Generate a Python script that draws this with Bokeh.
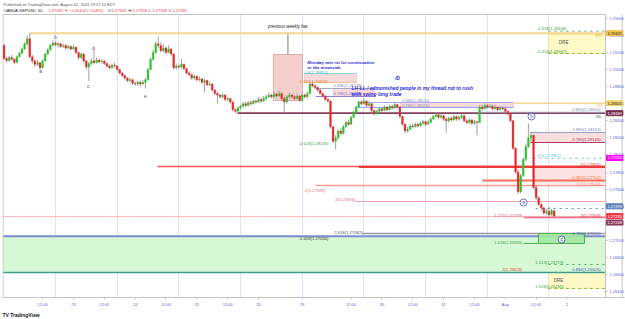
import numpy as np
from bokeh.plotting import figure
from bokeh.models import Range1d, FixedTicker, Label, ColumnDataSource, PrintfTickFormatter, Title
from bokeh.core.properties import value
from bokeh.embed import file_html
from bokeh.resources import INLINE

FONT = "Liberation Sans"

# ---------------- data (GBPUSD 60 min, hours counted in trading time from 22 Jul 00:00) ----
first_hour = -3
first_open = 1.29280
closes = [
    1.29129, 1.29105, 1.29140, 1.29120, 1.29082, 1.29150, 1.29190, 1.29240, 1.29300, 1.29360,
    1.29150, 1.29100, 1.29060, 1.29080, 1.29020, 1.29100, 1.29180, 1.29230, 1.29280, 1.29310,
    1.29290, 1.29300, 1.29270, 1.29280, 1.29250, 1.29270, 1.29240, 1.29260, 1.29200, 1.29140,
    1.29180, 1.29100, 1.29030, 1.29070, 1.29100, 1.29080, 1.29110, 1.29090, 1.29100, 1.29070,
    1.29040, 1.29020, 1.29050, 1.29040, 1.29000, 1.28960, 1.28930, 1.28900, 1.28870, 1.28880,
    1.28840, 1.28830, 1.28850, 1.28830, 1.28850, 1.28880, 1.29000, 1.29120, 1.29200, 1.29300,
    1.29280, 1.29220, 1.29250, 1.29200, 1.29240, 1.29180, 1.29020, 1.29040, 1.29030, 1.29060,
    1.29010, 1.28960, 1.28940, 1.28900, 1.28920, 1.28880, 1.28890, 1.28850, 1.28870, 1.28820,
    1.28830, 1.28760, 1.28720, 1.28700, 1.28680, 1.28700, 1.28650, 1.28660, 1.28620, 1.28530,
    1.28510, 1.28550, 1.28570, 1.28600, 1.28580, 1.28610, 1.28600, 1.28630, 1.28620, 1.28650,
    1.28630, 1.28660, 1.28680, 1.28700, 1.28680, 1.28710, 1.28690, 1.28720, 1.28660, 1.28620,
    1.28680, 1.28700, 1.28680, 1.28660, 1.28690, 1.28640, 1.28700, 1.28680, 1.28720, 1.28830,
    1.28810, 1.28790, 1.28760, 1.28720, 1.28690, 1.28650, 1.28630, 1.28330, 1.28160, 1.28200,
    1.28280, 1.28250, 1.28330, 1.28380, 1.28360, 1.28440, 1.28500, 1.28560, 1.28620, 1.28600,
    1.28630, 1.28580, 1.28600, 1.28520, 1.28480, 1.28510, 1.28540, 1.28520, 1.28560, 1.28530,
    1.28570, 1.28550, 1.28590, 1.28560, 1.28450, 1.28360, 1.28280, 1.28300, 1.28340, 1.28330,
    1.28360, 1.28340, 1.28370, 1.28390, 1.28360, 1.28380, 1.28420, 1.28450, 1.28470, 1.28440,
    1.28460, 1.28420, 1.28400, 1.28430, 1.28410, 1.28450, 1.28420, 1.28440, 1.28460, 1.28400,
    1.28380, 1.28410, 1.28370, 1.28390, 1.28380, 1.28560, 1.28540, 1.28580, 1.28560, 1.28570,
    1.28540, 1.28560, 1.28530, 1.28550, 1.28540, 1.28510, 1.28480, 1.28400, 1.28080, 1.27800,
    1.27570, 1.27760, 1.27950, 1.28100, 1.28200, 1.28230, 1.27620, 1.27500, 1.27420, 1.27380,
    1.27320, 1.27340, 1.27300, 1.27349, 1.27285,
]
highs = [
    1.29300, 1.29150, 1.29160, 1.29170, 1.29130, 1.29165, 1.29210, 1.29260, 1.29320, 1.29400,
    1.29425, 1.29170, 1.29120, 1.29110, 1.29090, 1.29120, 1.29190, 1.29250, 1.29300, 1.29340,
    1.29330, 1.29320, 1.29310, 1.29300, 1.29300, 1.29290, 1.29280, 1.29290, 1.29270, 1.29210,
    1.29200, 1.29190, 1.29110, 1.29090, 1.29130, 1.29230, 1.29140, 1.29130, 1.29120, 1.29110,
    1.29090, 1.29060, 1.29070, 1.29080, 1.29050, 1.29010, 1.28970, 1.28950, 1.28910, 1.28900,
    1.28890, 1.28860, 1.28870, 1.28870, 1.28880, 1.28900, 1.29020, 1.29140, 1.29230, 1.29330,
    1.29386, 1.29320, 1.29300, 1.29270, 1.29280, 1.29250, 1.29190, 1.29070, 1.29060, 1.29130,
    1.29070, 1.29020, 1.28980, 1.28950, 1.28940, 1.28930, 1.28920, 1.28900, 1.28890, 1.28880,
    1.28860, 1.28840, 1.28770, 1.28740, 1.28720, 1.28720, 1.28710, 1.28680, 1.28670, 1.28630,
    1.28550, 1.28570, 1.28590, 1.28620, 1.28620, 1.28630, 1.28640, 1.28650, 1.28650, 1.28680,
    1.28670, 1.28690, 1.28710, 1.28730, 1.28720, 1.28740, 1.28730, 1.28750, 1.28730, 1.28680,
    1.28700, 1.28730, 1.28720, 1.28700, 1.28710, 1.28700, 1.28720, 1.28720, 1.28740, 1.28850,
    1.28860, 1.28830, 1.28800, 1.28770, 1.28730, 1.28700, 1.28670, 1.28640, 1.28340, 1.28230,
    1.28300, 1.28310, 1.28350, 1.28400, 1.28410, 1.28460, 1.28520, 1.28580, 1.28640, 1.28650,
    1.28660, 1.28640, 1.28630, 1.28610, 1.28530, 1.28530, 1.28560, 1.28560, 1.28580, 1.28570,
    1.28590, 1.28590, 1.28620, 1.28600, 1.28570, 1.28460, 1.28370, 1.28330, 1.28360, 1.28370,
    1.28380, 1.28380, 1.28390, 1.28410, 1.28400, 1.28410, 1.28440, 1.28470, 1.28500, 1.28490,
    1.28480, 1.28470, 1.28440, 1.28450, 1.28450, 1.28470, 1.28460, 1.28460, 1.28480, 1.28470,
    1.28420, 1.28430, 1.28420, 1.28410, 1.28400, 1.28580, 1.28590, 1.28605, 1.28600, 1.28600,
    1.28590, 1.28590, 1.28570, 1.28570, 1.28570, 1.28560, 1.28520, 1.28490, 1.28410, 1.28090,
    1.27830, 1.27780, 1.27970, 1.28130, 1.28368, 1.28269, 1.28240, 1.27650, 1.27520, 1.27440,
    1.27400, 1.27370, 1.27399, 1.27370, 1.27358,
]
lows = [
    1.29110, 1.29080, 1.29090, 1.29100, 1.29060, 1.29070, 1.29140, 1.29180, 1.29230, 1.29280,
    1.29130, 1.29070, 1.29030, 1.29040, 1.28990, 1.29010, 1.29090, 1.29170, 1.29220, 1.29270,
    1.29270, 1.29260, 1.29250, 1.29250, 1.29230, 1.29240, 1.29220, 1.29230, 1.29180, 1.29110,
    1.29120, 1.29080, 1.29000, 1.28860, 1.29050, 1.29060, 1.29070, 1.29070, 1.29070, 1.29050,
    1.29020, 1.29000, 1.29010, 1.29020, 1.28980, 1.28940, 1.28910, 1.28880, 1.28850, 1.28850,
    1.28820, 1.28810, 1.28810, 1.28800, 1.28820, 1.28778, 1.28870, 1.28990, 1.29100, 1.29180,
    1.29250, 1.29200, 1.29200, 1.29180, 1.29190, 1.29160, 1.29000, 1.29000, 1.29010, 1.29010,
    1.28990, 1.28940, 1.28920, 1.28880, 1.28880, 1.28860, 1.28860, 1.28830, 1.28731, 1.28800,
    1.28800, 1.28740, 1.28700, 1.28600, 1.28660, 1.28660, 1.28630, 1.28630, 1.28600, 1.28510,
    1.28489, 1.28500, 1.28530, 1.28560, 1.28560, 1.28570, 1.28580, 1.28590, 1.28600, 1.28610,
    1.28610, 1.28620, 1.28640, 1.28670, 1.28660, 1.28670, 1.28670, 1.28680, 1.28640, 1.28495,
    1.28600, 1.28660, 1.28660, 1.28640, 1.28650, 1.28620, 1.28620, 1.28660, 1.28660, 1.28710,
    1.28790, 1.28770, 1.28740, 1.28700, 1.28670, 1.28630, 1.28610, 1.28310, 1.28140, 1.28064,
    1.28180, 1.28230, 1.28240, 1.28320, 1.28340, 1.28350, 1.28430, 1.28490, 1.28550, 1.28580,
    1.28590, 1.28560, 1.28570, 1.28500, 1.28460, 1.28470, 1.28500, 1.28500, 1.28510, 1.28510,
    1.28520, 1.28530, 1.28540, 1.28540, 1.28430, 1.28340, 1.28251, 1.28260, 1.28290, 1.28310,
    1.28320, 1.28320, 1.28330, 1.28350, 1.28340, 1.28350, 1.28370, 1.28410, 1.28440, 1.28420,
    1.28430, 1.28400, 1.28260, 1.28380, 1.28390, 1.28400, 1.28400, 1.28400, 1.28420, 1.28380,
    1.28360, 1.28360, 1.28350, 1.28350, 1.28228, 1.28370, 1.28520, 1.28530, 1.28540, 1.28550,
    1.28520, 1.28530, 1.28510, 1.28520, 1.28520, 1.28490, 1.28460, 1.28380, 1.28060, 1.27780,
    1.27540, 1.27550, 1.27740, 1.27930, 1.28080, 1.28150, 1.27600, 1.27470, 1.27400, 1.27350,
    1.27300, 1.27300, 1.27280, 1.27290, 1.27268,
]

x_tick_hours = [12, 24, 36, 48, 60, 72, 84, 96, 113, 132, 144, 156, 168, 180, 192, 204, 216]
x_tick_labels = ["12:00", "23", "12:00", "24", "12:00", "25", "12:00", "26", "29",
                 "12:00", "30", "12:00", "31", "12:00", "Aug", "12:00", "2"]
session_hours = [17, 41, 65, 89, 113, 137, 161, 185, 209]
price_ticks = [1.264, 1.266, 1.268, 1.270, 1.272, 1.274, 1.276, 1.278, 1.280,
               1.282, 1.284, 1.286, 1.288, 1.290, 1.292, 1.294, 1.296]

week_high = 1.29425
week_low = 1.28489
prev_week_open = 1.29175
prev_week_close = 1.28637
yday_high = 1.28605
week_bar_hours = [101.8, 113.1]

swing_names = ["a", "b", "c", "d", "e"]
swing_hours = [11.2, 17.0, 29.8, 31.8, 52.0]
swing_prices = [1.28977, 1.29374, 1.28801, 1.29246, 1.28684]

wave_names = ["a", "b", "c"]
wave_hours = [199.1, 202.2, 213.9]
wave_prices = [1.27444, 1.28450, 1.27012]

axis_tag_prices = [1.29425, 1.28605, 1.28489, 1.27965, 1.27399, 1.27285, 1.27268]
axis_tag_colors = ["#f2c14e", "#f5d36b", "#7b2d4f", "#ff00ff", "#5b7fb8", "#f23645", "#8e3b5e"]
axis_tag_text_colors = ["#222222", "#222222", "white", "white", "white", "white", "white"]

quote_texts = ["OANDA:GBPUSD, 60", "1.27285 \u25bc \u22120.00104 (\u22120.08%)",
               "O:", "1.27349", "H:", "1.27358", "L:", "1.27268", "C:", "1.27285"]

# ---------------- figure ----------------
X0, X1 = -3.6, 231.0          # chart pane (time, hours)
XE = 238.38                    # includes the price-scale strip
Y0, Y1 = 1.26333, 1.29643      # chart pane (price)
YE = Y1 + 14 / 8550            # includes the header strip
PX = 2.5704                    # px per hour
PY = 8550.0                    # px per price unit

p = figure(width=625, height=319, x_range=Range1d(X0, XE), y_range=Range1d(Y0, YE),
           output_backend="svg", toolbar_location=None, y_axis_location="right",
           min_border_left=2, min_border_right=1, min_border_top=0, min_border_bottom=22)
p.background_fill_color = "white"
p.border_fill_color = "white"
p.outline_line_color = None

p.add_layout(Title(text="TV  TradingView", align="left", text_font=FONT,
                   text_font_size="5px", text_font_style="bold", text_color="#131722",
                   standoff=1), "below")

p.xaxis.ticker = FixedTicker(ticks=x_tick_hours)
p.xaxis.major_label_overrides = {h: s for h, s in zip(x_tick_hours, x_tick_labels)}
p.yaxis.ticker = FixedTicker(ticks=price_ticks)
p.yaxis.formatter = PrintfTickFormatter(format="%.5f")
p.yaxis.fixed_location = X1
for ax in (p.xaxis[0], p.yaxis[0]):
    ax.major_label_text_font = FONT
    ax.major_label_text_font_size = "4px"
    ax.major_label_text_color = "#5a5fcf"
    ax.axis_line_color = "#c4c4c4"
    ax.major_tick_line_color = "#c4c4c4"
    ax.major_tick_out = 2
    ax.major_tick_in = 0
    ax.minor_tick_line_color = None
    ax.major_label_standoff = 2
p.yaxis.axis_line_color = None
p.xgrid.ticker = FixedTicker(ticks=session_hours)
p.xgrid.grid_line_color = "#dbe5f0"
p.ygrid.grid_line_color = None


def hline(x0, x1, y, color, w=1.0, dash="solid", alpha=1.0):
    p.segment(x0=[x0], y0=[y], x1=[x1], y1=[y], line_color=color, line_width=w,
              line_dash=dash, line_alpha=alpha)


def box(x0, x1, y0, y1, fill, line=None, alpha=1.0, lw=1.0):
    p.quad(left=[x0], right=[x1], bottom=[y0], top=[y1], fill_color=fill, fill_alpha=alpha,
           line_color=line, line_width=lw)


def txt(x, y, s, color, size="4.2px", align="left", style="normal", dy=0):
    p.text(x=[x], y=[y], text=[s], text_color=color, text_font=value(FONT),
           text_font_size=size, text_align=align, text_baseline="middle",
           text_font_style=style, y_offset=dy)


def lvl(r, price):
    return f"{r}({price:.5f})"

# header strip and price-scale strip stay white
box(X0, XE, Y1, YE, "white")
box(X1, XE, Y0, YE, "white")

# ----- background zones -----
band_top, band_bot = 1.27050, 1.26626
dre_hi = (1.29187, 1.29413)
dre_lo = (1.26439, 1.26696)
box(208.8, X1, dre_lo[0], dre_lo[1], "#fff9c8", line="#f3e27a", lw=0.8)
box(X0, X1, band_bot, band_top, "#d6f8d4")
box(208.8, X1, dre_hi[0], dre_hi[1], "#fff9c8", line="#f3e27a", lw=0.8)

# weekly bar
p.segment(x0=[sum(week_bar_hours) / 2], y0=[prev_week_open], x1=[sum(week_bar_hours) / 2],
          y1=[week_high], line_color="#7a7a7a", line_width=1)
box(week_bar_hours[0], week_bar_hours[1], prev_week_close, prev_week_open, "#f4cfcc",
    line="#d9a19c", lw=0.8)

# fib boxes (pink)
fib1 = (1.28848, 1.28953)
box(113.9, 134.1, fib1[0], fib1[1], "#f9dada", line="#f2b9b9", lw=0.6)
fib2 = (1.28684, 1.28778)
box(125.2, 141.1, fib2[0], fib2[1], "#f9dada", line="#f2b9b9", lw=0.6)
fib3 = (1.28556, 1.28614)
box(151.2, 195.2, fib3[0], fib3[1], "#f9dada", line="#f2b9b9", lw=0.6)
fibb = (1.28146, 1.28263)
box(201.8, X1, fibb[0], fibb[1], "#f9dede")
fibr = (1.27667, 1.27877)
box(202.6, X1, fibr[0], fibr[1], "#fbe3e3")

# ----- horizontal levels -----
hline(6.9, X1, week_high, "#f6d58e", 2)
hline(208.8, X1, 1.29448, "#4caf50", 1, "dotted")
hline(208.8, X1, dre_hi[0], "#4caf50", 1, "dotted")
hline(113.9, 134.1, fib1[1], "#7fd6e0", 0.8)
hline(113.9, 134.1, fib1[0], "#f5b98a", 0.8)
hline(118.2, 141.1, fib2[1], "#9aa6c9", 1)
hline(118.2, 141.1, fib2[0], "#8c7fd0", 1)
hline(134.5, 195.2, fib3[1], "#9fa8ff", 1)
hline(134.5, 195.2, fib3[0], "#8c9eff", 1)
hline(195.2, X1, yday_high, "#f6d58e", 1.5)
hline(87.8, X1, week_low, "#84405f", 1.6)
hline(182.4, X1, 1.28500, "#9aa6c9", 0.8)
hline(201.8, X1, fibb[1], "#8fa3c9", 1)
hline(201.8, X1, fibb[0], "#b03a62", 1.2)
hline(203.0, X1, 1.27961, "#4fc3d6", 1, "dotted")
hline(56.7, X1, 1.27865, "#ff5252", 1.6)
hline(135.0, X1, 1.27860, "#ee3b3b", 2.2)
hline(183.1, X1, 1.27702, "#ff6e5a", 2)
hline(118.2, X1, 1.27643, "#ff9a90", 1.5)
hline(133.7, X1, 1.27456, "#f6a0bb", 1)
hline(203.8, X1, 1.27374, "#5b8dc8", 1, "dotted")
hline(X0, X1, 1.27281, "#ffb5b5", 1)
hline(199.1, X1, 1.27269, "#f06c8c", 1.5)
hline(136.5, X1, 1.27082, "#9a9a9a", 1.5)
hline(X0, X1, band_top, "#7f8bd0", 2)
hline(X0, X1, band_bot, "#3f9a8a", 1.5)
hline(199.1, 204.9, 1.26965, "#4caf50", 1)
hline(208.8, X1, 1.26719, "#4caf50", 1, "dotted")
hline(208.8, X1, dre_lo[0], "#4caf50", 1, "dotted")
box(204.9, 222.8, 1.26965, 1.27082, "#a3e6a0", line="#4caf50", alpha=0.9)

# pane border (top, left, right) and outer right edge
p.segment(x0=[X0, X0 + 0.2, X1, XE - 0.9], y0=[Y1, Y0, Y0, Y0],
          x1=[X1, X0 + 0.2, X1, XE - 0.9], y1=[Y1, Y1, Y1, Y1],
          line_color="#c4c4c4", line_width=1)

# ----- candles -----
hours = np.arange(first_hour, first_hour + len(closes))
opens = [first_open] + closes[:-1]
colors = ["#2bc52b" if c >= o else "#e52a2a" for o, c in zip(opens, closes)]
src = ColumnDataSource(dict(x=hours, h=highs, l=lows,
                            top=np.maximum(opens, closes), bot=np.minimum(opens, closes),
                            color=colors))
p.segment(x0="x", y0="l", x1="x", y1="h", source=src, line_color="#8c8c8c", line_width=0.8)
p.vbar(x="x", width=0.72, top="top", bottom="bot", fill_color="color", line_color="color",
       line_width=0.3, source=src)

# ----- texts -----
GREEN, BLUEGRAY, MAROON, RED = "#43a047", "#7f8fb8", "#a8325a", "#e53935"
txt(215.8, 1.29448, lvl(-0.618, 1.29448), GREEN, align="right", dy=-2.5)
txt(215.8, dre_hi[0], lvl(-0.414, dre_hi[0]), GREEN, align="right", dy=-2)
txt(214.7, 1.29316, "DRE", "#555555", size="4.6px", align="center")
txt(229.5, week_high, "WH", "#e6b422", size="3.8px", align="right", dy=3)
txt((week_bar_hours[0] + week_bar_hours[1]) / 2, 1.29503, "previous weekly bar", "#222222",
    size="4.5px", align="center", style="italic")
txt(115.0, 1.29082, "Monday min ret for continuation", "#2b2bd6", size="4.4px", style="bold italic")
txt(115.0, 1.29023, "to the downside", "#2b2bd6", size="4.4px", style="bold italic")
txt(123.0, fib1[1], lvl(0.5, fib1[1]), "#3fc1d4", align="right", dy=-1)
txt(123.0, fib1[0], lvl(0.382, fib1[0]), "#f08a3c", align="right", dy=-1)
txt(125.2, fib2[1], lvl(0.886, fib2[1]), BLUEGRAY, dy=-2.5)
txt(125.2, fib2[0], lvl(0.786, fib2[0]), "#7a6fd0", dy=-2.5)
txt(150.1, 1.28895, "ID", "#2b2bd6", size="4.6px", align="center", style="bold italic")
txt(132.2, 1.28778, "LH-LL / admonished people in my thread not to rush", "#2b2bd6",
    size="4.9px", style="bold italic")
txt(132.2, 1.28708, "with swing long trade", "#2b2bd6", size="4.9px", style="bold italic")
txt(151.9, fib3[1], lvl(0.886, fib3[1]), BLUEGRAY, size="4px", dy=-1.8)
txt(151.9, fib3[0], lvl(0.786, fib3[0]), BLUEGRAY, size="4px", dy=-1.8)
txt(229.5, yday_high, "YH", "#e6b422", size="3.8px", align="right", dy=3)
txt(229.1, 1.28500, lvl(0.886, 1.28500), BLUEGRAY, align="right", dy=-2.5)
txt(229.5, week_low, "WL", "#84405f", size="3.8px", align="right", dy=3.5)
txt(229.1, fibb[1], lvl(0.886, fibb[1]), BLUEGRAY, align="right", dy=-2.5)
txt(229.1, fibb[0], lvl(0.786, fibb[0]), MAROON, align="right", dy=-2.5)
txt(123.2, 1.28135, lvl(-0.618, 1.28135), GREEN, align="right")
txt(204.5, 1.27961, lvl(0.5, 1.27961), "#3fc1d4", dy=-2.5)
txt(229.1, 1.27865, lvl(1, 1.27865), RED, align="right", dy=-2.5)
txt(229.1, 1.27702, lvl(0.382, 1.27702), "#f4733c", align="right", dy=-2.5)
txt(229.1, 1.27643, lvl(0.5, 1.27643), "#f08080", align="right", dy=-1)
txt(122.0, 1.27585, lvl(-2, 1.27585), "#e57373", align="right")
txt(133.7, 1.27456, lvl(2, 1.27456), "#e0607e", align="right", dy=-1.5)
txt(198.7, 1.27269, lvl(1.272, 1.27269), "#e0607e", align="right", dy=-1.5)
txt(229.1, 1.27269, lvl(2, 1.27269), RED, align="right", dy=-2)
txt(136.5, 1.27082, lvl(2.618, 1.27082), "#555555", align="right", dy=-1)
txt(123.2, band_top, lvl(-1.618, band_top), "#333333", align="right", dy=2.5)
txt(229.1, band_top, lvl(0.786, band_top), "#5060c0", align="right", dy=-2.5)
txt(198.7, 1.26965, lvl(1.618, 1.26965), GREEN, align="right", dy=-1)
txt(214.7, 1.26719, lvl(1.414, 1.26719), GREEN, align="right", dy=-2)
txt(198.7, band_bot, lvl(2, band_bot), RED, align="right", dy=-2.5)
txt(229.1, band_bot, lvl(0.886, band_bot), "#5060c0", align="right", dy=-2.5)
txt(212.7, 1.26532, "DRE", "#555555", size="4.6px", align="center")
txt(214.7, dre_lo[0], lvl(1.618, dre_lo[0]), GREEN, align="right", dy=-2)

p.text(x=swing_hours, y=swing_prices, text=swing_names, text_color="#55557a",
       text_font=value(FONT), text_font_size="5px", text_align="center", text_baseline="middle")
p.scatter(x=wave_hours, y=wave_prices, size=7, marker="circle", fill_color="white",
          fill_alpha=0.6, line_color="#3f51b5", line_width=0.8)
p.text(x=wave_hours, y=wave_prices, text=wave_names, text_color="#3f51b5",
       text_font=value(FONT), text_font_size="4.5px", text_align="center", text_baseline="middle")

# ----- price-scale tags -----
tag_shift = [0, 0, 0, 0, 0, 0, -5]
for pr, bg, fg, sh in zip(axis_tag_prices, axis_tag_colors, axis_tag_text_colors, tag_shift):
    p.add_layout(Label(x=X1 + 0.35, y=pr, y_offset=sh, text=f"{pr:.5f}",
                       text_font=FONT, text_font_size="4px", text_color=fg,
                       text_baseline="middle", background_fill_color=bg,
                       border_line_color=bg, padding=1))

# ----- header (inside the header strip) -----
head_x = [X0 + 0.4 + (px - 2) / PX for px in (2, 47, 106, 110, 127, 131, 147, 151, 167, 171)]
head_colors = ["#222222", "#f23645", "#222222", "#f23645", "#222222", "#f23645",
               "#222222", "#f23645", "#222222", "#f23645"]
p.add_layout(Label(x=X0 + 0.4, y=Y1 + 10 / PY, text="Published on TradingView.com, August 01, 2024 19:57:12 EDT",
                   text_font=FONT, text_font_size="4px", text_color="#555555",
                   text_baseline="middle"))
for hx, hs, hc in zip(head_x, quote_texts, head_colors):
    p.add_layout(Label(x=hx, y=Y1 + 4 / PY, text=hs, text_font=FONT, text_font_size="4px",
                       text_color=hc, text_baseline="middle"))

open("out.html", "w").write(file_html(p, INLINE))
